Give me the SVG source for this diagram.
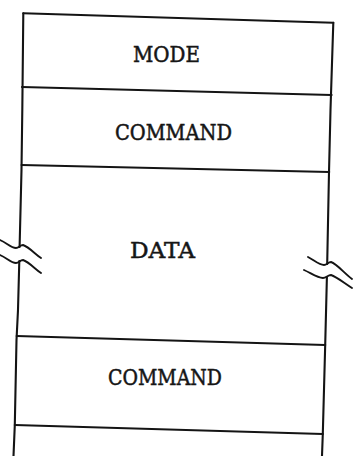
<svg xmlns="http://www.w3.org/2000/svg" width="354" height="456" viewBox="0 0 354 456">
  <style>
    .rule { fill: none; stroke: #141414; stroke-width: 2.1; stroke-linecap: round; stroke-linejoin: round; }
    .brk { fill: none; stroke: #141414; stroke-width: 1.9; stroke-linecap: round; }
    .lbl { font-family: "DejaVu Serif", "Liberation Serif", serif; font-size: 22px; fill: #161616; stroke: #161616; stroke-width: 0.5; text-anchor: middle; }
  </style>
  <rect width="354" height="456" fill="#ffffff"/>

  <!-- frame: sides, top edge and cell dividers -->
  <g id="frame">
    <!-- left side, broken at the DATA cut -->
    <path class="rule" d="M23.3,13.3 L22.3,110 L21.5,170 L19.6,247"/>
    <path class="rule" d="M19.3,261 L18,310 L16.5,340 L14.8,425 L13.5,456"/>
    <!-- right side, broken at the DATA cut -->
    <path class="rule" d="M333.3,22.7 L330.5,110 L329,172 L327.2,264"/>
    <path class="rule" d="M326.9,277 L325.2,345 L322.8,434 L322,456"/>
    <!-- top edge and dividers -->
    <path class="rule" d="M23.3,13.3 L333.3,22.7"/>
    <path class="rule" d="M22,87 L331.6,95"/>
    <path class="rule" d="M21.6,165 L329.2,172"/>
    <path class="rule" d="M16.7,336 L325.2,345"/>
    <path class="rule" d="M14.8,425 L322.8,434"/>
  </g>

  <!-- break marks across the DATA cell -->
  <g id="breaks">
    <path class="brk" d="M0,240 C7,243 11,248 16,248 C19,248 20,245 23,245 C29,247 35,254 41,258"/>
    <path class="brk" d="M0,255 C7,258 11,263 16,263 C19,263 20,260 23,260 C29,262 35,269 41,273"/>
    <path class="brk" d="M308,257 C314,260 319,265 324,265 C327,265 328,262 331,262 C337,264 344,273 352,279"/>
    <path class="brk" d="M304,270 C311,273 317,278 323,278 C326,278 328,275 331,275 C337,277 344,283 352,288"/>
  </g>

  <g id="cell-mode">
    <text class="lbl" x="166.5" y="62" textLength="67" lengthAdjust="spacingAndGlyphs">MODE</text>
  </g>
  <g id="cell-command-1">
    <text class="lbl" x="173.5" y="140" textLength="117" lengthAdjust="spacingAndGlyphs">COMMAND</text>
  </g>
  <g id="cell-data">
    <text class="lbl" x="162.5" y="258" textLength="65" lengthAdjust="spacingAndGlyphs">DATA</text>
  </g>
  <g id="cell-command-2">
    <text class="lbl" x="165" y="385" textLength="114" lengthAdjust="spacingAndGlyphs">COMMAND</text>
  </g>
</svg>
